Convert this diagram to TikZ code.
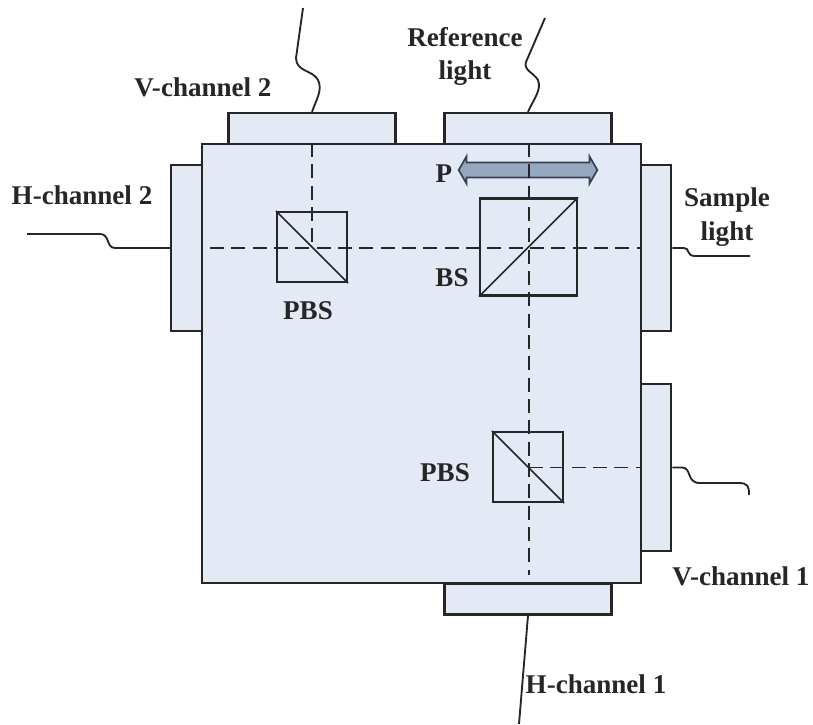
\documentclass[tikz,border=0pt]{standalone}
\usepackage{fontspec}
\setmainfont{Liberation Serif}
\usetikzlibrary{shapes.arrows}
\definecolor{boxblue}{RGB}{228,234,245}
\definecolor{inkline}{RGB}{38,38,38}
\definecolor{arrowsteel}{RGB}{150,168,192}
\definecolor{arrowedge}{RGB}{55,65,85}
\tikzset{
  blockbox/.style={draw=inkline,fill=boxblue,line width=1.6pt,inner sep=0pt},
  porth/.style={blockbox,minimum width=125.25pt,minimum height=23.25pt},
  portv/.style={blockbox,minimum width=23pt,minimum height=125pt},
  cube/.style={draw=inkline,line width=1.6pt,inner sep=0pt,minimum width=52.5pt,minimum height=52.5pt},
  beam/.style={draw=inkline,line width=1.1pt,dash pattern=on 10.5pt off 5.5pt},
  fibre/.style={draw=inkline,line width=1.4pt},
  lbl/.style={font=\fontsize{20.3}{25}\selectfont\bfseries,text=inkline,align=center,inner sep=0pt}
}
\begin{document}
\begin{tikzpicture}[x=0.75pt,y=0.75pt,yscale=-1,xscale=1]
\useasboundingbox (0,0) rectangle (813,724);

%Shape: Rectangle, ports
\node (vtwoport) [porth] at (312,128.5) {};
\node (refport) [porth] at (528,128.5) {};
\node (htwoport) [portv] at (186.5,248) {};
\node (sampleport) [portv] at (656,248) {};
\node (voneport) [portv] at (656,467.5) {};
\node (honeport) [porth] at (528,599) {};
%Shape: Rectangle, main block
\node (block) [blockbox,minimum width=329.25pt,minimum height=329.25pt] at (421.5,363.5) {};

%Shape: Rectangle, cubes
\node (pbstwo) [cube] at (312,247) {};
\node (bs) [cube,minimum width=72.75pt,minimum height=72.75pt] at (528.5,247) {};
\node (pbsone) [cube] at (528,467) {};

%Diagonals
\draw [line width=1.3pt,draw=inkline] (pbstwo.north west) -- (pbstwo.south east);
\draw [line width=1.3pt,draw=inkline] (bs.south west) -- (bs.north east);
\draw [line width=1.3pt,draw=inkline] (pbsone.north west) -- (pbsone.south east);

%Polarizer
\node (polar) [double arrow,draw=arrowedge,fill=arrowsteel,line width=1.3pt,minimum height=104pt,
  inner xsep=0pt,inner ysep=5pt,double arrow head extend=4.5pt,double arrow tip angle=120] at (528,170) {};

%Straight Lines, beams
\coordinate (beamstart) at (210,248);
\coordinate (beamend) at (529,575);
\draw [beam] (beamstart) -- (block.east |- beamstart);
\draw [beam] (pbstwo.center |- block.north) -- (pbstwo.center |- beamstart);
\draw [beam] (beamend |- block.north) -- (beamend);
\draw [beam] (beamend |- voneport.center) -- (block.east |- voneport.center);

%Fibres
\coordinate (vtwoend) at (303,8);
\coordinate (refend) at (545,18);
\coordinate (sampleend) at (750,256);
\coordinate (htwoend) at (27,234);
\coordinate (voneend) at (749,495);
\coordinate (honeend) at (519,724);
\draw [fibre] (vtwoport.north) .. controls (316,100) and (323,90) .. (318,80) .. controls (313,70) and (296,72) .. (296,58) -- (vtwoend);
\draw [fibre] (refport.north) .. controls (533,100) and (542,90) .. (538,80) .. controls (534,73) and (523,70) .. (526,62) -- (refend);
\draw [fibre] (sampleport.east) -- (684,248) .. controls (690,248) and (686,256) .. (695,256) -- (sampleend);
\draw [fibre] (htwoport.west) -- (115,248) .. controls (106,248) and (110,234) .. (100,234) -- (htwoend);
\draw [fibre] (voneport.east) -- (682,467.5) .. controls (692,467.5) and (686,483) .. (700,483) -- (738,483) .. controls (748,483) and (749,486) .. (voneend);
\draw [fibre] (honeport.south) -- (honeend);

% Text Node
\draw (465,56.5) node (reflabel) [lbl] {Reference\\light};
\draw (727,217) node (samplelabel) [lbl] {Sample\\light};
\draw (203,87) node (vtwolabel) [lbl] {V-channel 2};
\draw (82,195) node (htwolabel) [lbl] {H-channel 2};
\draw (444,174) node (polarlabel) [lbl] {P};
\draw (452,278) node (bslabel) [lbl] {BS};
\draw (308,311) node (pbstwolabel) [lbl] {PBS};
\draw (445,473) node (pbsonelabel) [lbl] {PBS};
\draw (741,576) node (vonelabel) [lbl] {V-channel 1};
\draw (596,684) node (honelabel) [lbl] {H-channel 1};

\end{tikzpicture}
\end{document}
